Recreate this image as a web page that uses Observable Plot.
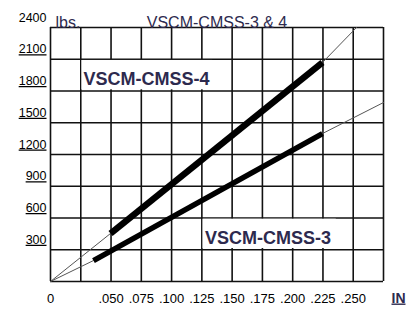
<!DOCTYPE html>
<html>
<head>
<meta charset="utf-8">
<script src="https://cdn.jsdelivr.net/npm/d3@7"></script>
<script src="https://cdn.jsdelivr.net/npm/@observablehq/plot@0.6"></script>
<style>
  html, body { margin: 0; padding: 0; background: #fff; }
  #chart svg { display: block; }
</style>
</head>
<body>
<div id="chart"></div>
<script>
// ---- data ----
const title = "VSCM-CMSS-3 & 4";
const yUnit = "lbs.";
const xUnit = "IN";

const xGrid = [0, 0.025, 0.05, 0.075, 0.1, 0.125, 0.15, 0.175, 0.2, 0.225, 0.25, 0.275];
const yGrid = [0, 300, 600, 900, 1200, 1500, 1800, 2100, 2400];

const xTicks = [0, 0.05, 0.075, 0.1, 0.125, 0.15, 0.175, 0.2, 0.225, 0.25];
const xTickLabels = ["0", ".050", ".075", ".100", ".125", ".150", ".175", ".200", ".225", ".250"];
const yTicks = [300, 600, 900, 1200, 1500, 1800, 2100, 2400];
const yTickLabels = ["300", "600", "900", "1200", "1500", "1800", "2100", "2400"];

// VSCM-CMSS-4 : thin guide line and thick working range
const cmss4GuideX = [0, 0.0496, 0.2246, 0.2527];
const cmss4GuideY = [0, 454, 2069, 2400];
const cmss4RangeX = [0.0496, 0.2246];
const cmss4RangeY = [454, 2069];

// VSCM-CMSS-3
const cmss3GuideX = [0, 0.0355, 0.2246, 0.275];
const cmss3GuideY = [0, 198, 1398, 1691];
const cmss3RangeX = [0.0355, 0.2246];
const cmss3RangeY = [198, 1398];

// series labels (name, position in data units, extent of label box)
const seriesNames = ["VSCM-CMSS-4", "VSCM-CMSS-3"];
const labelX = [0.0272, 0.1275];
const labelY = [1910, 410];
const boxX1 = [0.025, 0.125];
const boxX2 = [0.134, 0.236];
const boxY1 = [1800, 300];
const boxY2 = [2100, 600];

// ---- build tables ----
const toPts = (xs, ys) => xs.map((x, i) => ({x, y: ys[i]}));
const guide4 = toPts(cmss4GuideX, cmss4GuideY);
const range4 = toPts(cmss4RangeX, cmss4RangeY);
const guide3 = toPts(cmss3GuideX, cmss3GuideY);
const range3 = toPts(cmss3RangeX, cmss3RangeY);
const labels = seriesNames.map((name, i) => ({
  name, x: labelX[i], y: labelY[i], x1: boxX1[i], x2: boxX2[i], y1: boxY1[i], y2: boxY2[i]
}));
const xTickData = xTicks.map((v, i) => ({v, label: xTickLabels[i]}));
const yTickData = yTicks.map((v, i) => ({v, label: yTickLabels[i]}));

const ink = "#2d2a4e";
const font = "'Liberation Sans', Arial, sans-serif";

const chart = Plot.plot({
  width: 419,
  height: 311,
  marginLeft: 50,
  marginRight: 36,
  marginTop: 27,
  marginBottom: 30,
  style: {fontFamily: font, background: "#fff", overflow: "visible"},
  x: {domain: [0, 0.275], axis: null},
  y: {domain: [0, 2400], axis: null},
  marks: [
    Plot.ruleX(xGrid, {stroke: "#111", strokeWidth: 1.6}),
    Plot.ruleY(yGrid, {stroke: "#111", strokeWidth: 1.6}),
    Plot.rect(labels, {x1: "x1", x2: "x2", y1: "y1", y2: "y2", fill: "#fff",
      insetLeft: 1.2, insetTop: 1.2, insetBottom: 1.2}),
    Plot.line(guide4, {x: "x", y: "y", stroke: "#555", strokeWidth: 1}),
    Plot.line(guide3, {x: "x", y: "y", stroke: "#555", strokeWidth: 1}),
    Plot.line(range4, {x: "x", y: "y", stroke: "#000", strokeWidth: 6.5, strokeLinecap: "butt"}),
    Plot.line(range3, {x: "x", y: "y", stroke: "#000", strokeWidth: 5.5, strokeLinecap: "butt"}),
    Plot.text(labels, {x: "x", y: "y", text: "name", textAnchor: "start",
      fontSize: 18, fontWeight: "bold", fill: ink}),
    // y tick labels
    Plot.text(yTickData, {y: "v", text: "label", frameAnchor: "left", textAnchor: "end",
      dx: -4, dy: -10, fontSize: 12.5, fill: "#000"}),
    // x tick labels
    Plot.text(xTickData, {x: "v", text: "label", frameAnchor: "bottom", dy: 21,
      fontSize: 13, fill: "#000"}),
    // unit & title
    Plot.text([yUnit], {frameAnchor: "top-left", textAnchor: "start", dx: 5, dy: -11,
      fontSize: 16, fill: ink}),
    Plot.text([title], {frameAnchor: "top", dy: -11, fontSize: 16, fill: ink}),
    Plot.text([xUnit], {frameAnchor: "bottom-right", textAnchor: "middle", dx: 15, dy: 21,
      fontSize: 14, fontWeight: "bold", fill: ink})
  ]
});

document.getElementById("chart").appendChild(chart);

// underline y tick labels (except the top one) and the x unit, as in the reference
d3.select(chart).selectAll("text")
  .filter(function() {
    const t = this.textContent;
    return (yTickLabels.includes(t) && t !== "2400") || t === xUnit;
  })
  .style("text-decoration", "underline");
</script>
</body>
</html>
